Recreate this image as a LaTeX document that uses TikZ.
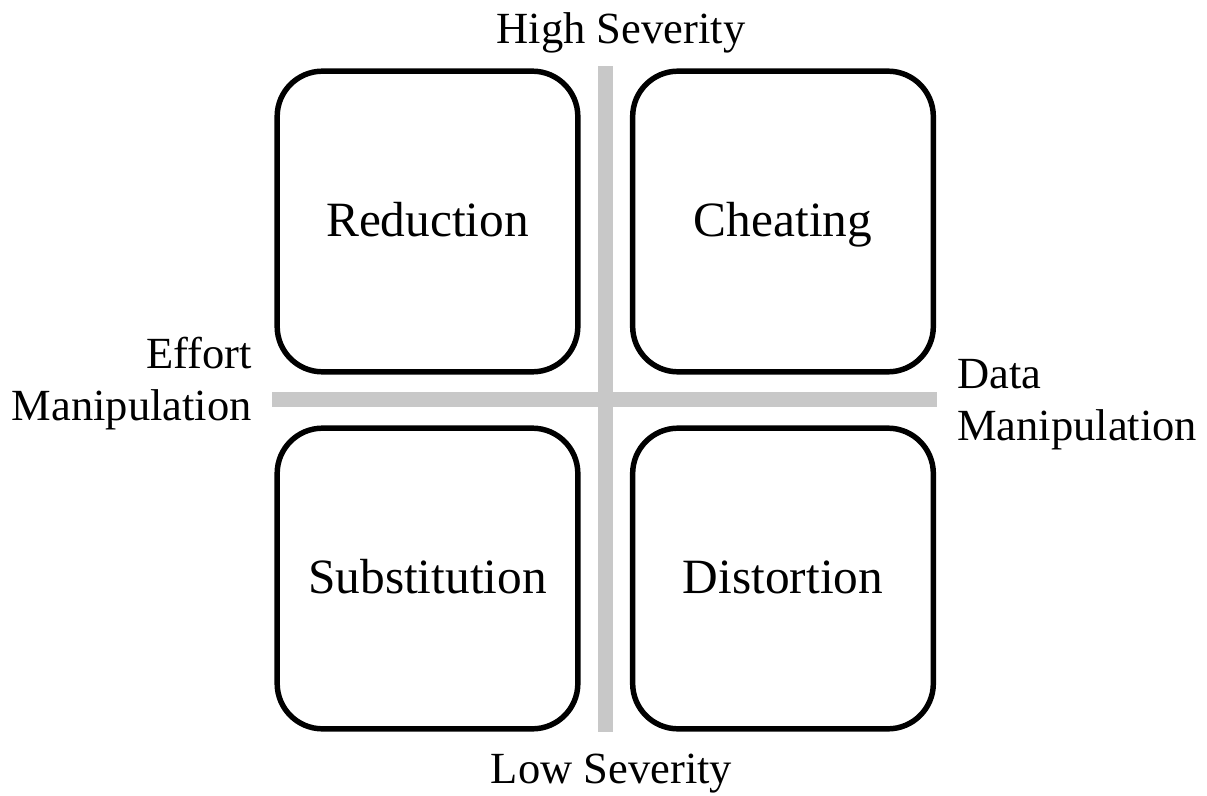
\documentclass[tikz,border=0pt]{standalone}
\usepackage{fontspec}
\setmainfont{Liberation Serif}
\definecolor{barg}{HTML}{C8C8C8}
\tikzset{
  quad/.style={draw=black, line width=4.1pt, rounded corners=34pt, minimum width=225.5pt, minimum height=225.5pt, inner sep=0pt, font=\fontsize{37}{44}\selectfont, text height=23.2pt, text depth=0pt},
  axislabel/.style={font=\fontsize{33.4}{38.5}\selectfont, inner sep=0pt},
  bar/.style={fill=barg, draw=none, inner sep=0pt}
}
\begin{document}
\begin{tikzpicture}[x=0.75pt,y=-0.75pt]
\useasboundingbox (0,0) rectangle (1207,796);
\node[bar, minimum width=11.25pt, minimum height=499.5pt] (vbar) at (605.5,399) {};
\node[bar, minimum width=498.75pt, minimum height=11.25pt] (hbar) at (604.5,399.5) {};
\node[quad] (red) at (427.5,221.5) {Reduction};
\node[quad] (che) at (783,221.5) {Cheating};
\node[quad] (sub) at (427.5,578.5) {Substitution};
\node[quad] (dis) at (783,578.5) {Distortion};
\node[axislabel, anchor=base] (hi) at (621,43) {High Severity};
\node[axislabel, anchor=base] (lo) at (611.5,783) {Low Severity};
\node[axislabel, anchor=base east, align=right] (eff) at (252,420) {Effort\\Manipulation};
\node[axislabel, anchor=base west, align=left] (dat) at (957,440) {Data\\Manipulation};
\end{tikzpicture}
\end{document}
